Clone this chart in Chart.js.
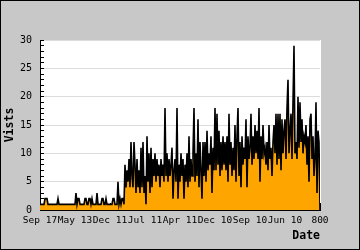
<!DOCTYPE html>
<html>
<head>
<meta charset="utf-8">
<title>Visits</title>
<script src="https://cdn.jsdelivr.net/npm/chart.js"></script>
<style>
  html, body { margin: 0; padding: 0; background: #c8c8c8; }
  canvas { display: block; }
</style>
</head>
<body>
<canvas id="visitsChart" width="360" height="250"></canvas>
<script>
// Tick labels along the date axis (one every tickStep days)
const tickLabels = ['Sep 17', 'May 13', 'Dec 11', 'Jul 11', 'Apr 11', 'Dec 10', 'Sep 10', 'Jun 10', '800'];
const tickStep = 35;

// Daily visits, early quiet period
const visitsEarly = [
    1, 1, 1, 1, 1, 2, 2, 2, 1, 1,
    1, 1, 1, 1, 1, 1, 1, 1, 2, 1,
    1, 1, 1, 1, 1, 1, 1, 1, 1, 1,
    1, 1, 1, 1, 1, 1, 3, 1, 2, 2,
    1, 1, 1, 1, 1, 2, 2, 1, 1, 2,
    2, 1, 2, 1, 1, 1, 1, 3, 1, 1,
    1, 1, 2, 2, 1, 1, 2, 1, 1, 1,
    1, 1, 1, 2, 2, 1, 1, 1, 5, 1,
    2, 1, 2, 2, 1
];

// Daily visits, busy period
const visitsLate = [
    8, 4, 7, 5, 9, 4, 12, 6, 4, 12,
    8, 3, 9, 4, 7, 3, 11, 4, 12, 3,
    6, 1, 13, 5, 10, 3, 11, 4, 9, 6,
    10, 5, 9, 6, 8, 4, 9, 6, 8, 5,
    18, 6, 10, 5, 9, 6, 8, 11, 2, 7,
    9, 5, 18, 2, 8, 5, 10, 6, 9, 2,
    8, 5, 10, 4, 13, 5, 9, 6, 10, 18,
    5, 10, 6, 16, 4, 12, 7, 2, 12, 6,
    12, 5, 14, 7, 10, 8, 13, 3, 11, 7,
    18, 7, 17, 8, 14, 6, 12, 7, 13, 8,
    12, 7, 13, 5, 17, 8, 12, 6, 11, 7,
    15, 5, 13, 18, 6, 12, 4, 13, 8, 11,
    9, 16, 4, 13, 9, 11, 17, 8, 13, 9,
    15, 10, 14, 9, 18, 5, 13, 9, 15, 10,
    11, 8, 12, 7, 15, 9, 11, 6, 12, 15,
    10, 17, 8, 17, 9, 17, 7, 16, 10, 14,
    16, 9, 18, 23, 10, 14, 17, 9, 19, 29,
    10, 12, 9, 20, 11, 19, 12, 16, 10, 13,
    12, 15, 8, 13, 5, 16, 17, 9, 13, 6,
    9, 19, 3, 14, 12, 0
];

const visits = visitsEarly.concat(visitsLate);

// Paint grey frame and white plot area
const backgroundPlugin = {
    id: 'frame',
    beforeDraw(chart) {
        const { ctx, chartArea } = chart;
        ctx.save();
        ctx.fillStyle = '#c8c8c8';
        ctx.fillRect(0, 0, chart.width, chart.height);
        ctx.fillStyle = '#ffffff';
        ctx.fillRect(chartArea.left, chartArea.top,
            chartArea.right - chartArea.left + 1, chartArea.bottom - chartArea.top);
        ctx.restore();
    },
    afterDraw(chart) {
        const ctx = chart.ctx;
        ctx.save();
        ctx.strokeStyle = '#000';
        ctx.lineWidth = 1;
        ctx.strokeRect(0.5, 0.5, chart.width - 1, chart.height - 1);
        ctx.restore();
    }
};

function initializeChart() {
    const ctx = document.getElementById('visitsChart').getContext('2d');
    const mono = 'DejaVu Sans Mono, Liberation Mono, monospace';

    new Chart(ctx, {
        type: 'line',
        data: {
            datasets: [{
                label: 'Visits',
                data: visits.map((v, i) => ({ x: i, y: v })),
                borderColor: '#000000',
                backgroundColor: '#ffa500',
                borderWidth: 1.6,
                pointRadius: 0,
                tension: 0,
                fill: 'origin'
            }]
        },
        options: {
            responsive: false,
            animation: false,
            devicePixelRatio: 1,
            layout: { padding: { top: 40, right: 40, left: 0, bottom: 0 } },
            plugins: {
                legend: { display: false },
                tooltip: { enabled: false }
            },
            scales: {
                x: {
                    type: 'linear',
                    min: 0,
                    max: visits.length - 1,
                    afterFit: (scale) => { scale.height = 40; },
                    border: { color: '#000', width: 1 },
                    grid: {
                        drawOnChartArea: false,
                        tickLength: -7,
                        tickColor: '#000'
                    },
                    ticks: {
                        stepSize: tickStep,
                        autoSkip: false,
                        maxRotation: 0,
                        minRotation: 0,
                        padding: 12,
                        color: '#000',
                        font: { family: mono, size: 9.5 },
                        callback: (value) => tickLabels[Math.round(value / tickStep)]
                    },
                    title: {
                        display: true,
                        text: 'Date',
                        align: 'end',
                        color: '#000',
                        padding: { top: 0, bottom: 7 },
                        font: { family: mono, size: 11.5, weight: 'bold' }
                    }
                },
                y: {
                    min: 0,
                    max: 30,
                    afterFit: (scale) => { scale.width = 40; },
                    border: { color: '#000', width: 1 },
                    grid: {
                        tickLength: -4,
                        tickColor: '#000',
                        color: (c) => (c.tick && c.tick.value % 5 === 0 && c.tick.value > 0)
                            ? '#dcdcdc' : 'rgba(0,0,0,0)'
                    },
                    ticks: {
                        stepSize: 1,
                        autoSkip: false,
                        padding: 12,
                        color: '#000',
                        font: { family: mono, size: 10 },
                        callback: (value) => (value % 5 === 0 ? String(value) : '')
                    },
                    title: {
                        display: true,
                        text: 'Vists',
                        color: '#000',
                        padding: { top: 3, bottom: 0 },
                        font: { family: mono, size: 11.5, weight: 'bold' }
                    }
                }
            }
        },
        plugins: [backgroundPlugin]
    });
}

document.addEventListener('DOMContentLoaded', initializeChart);
</script>
</body>
</html>
